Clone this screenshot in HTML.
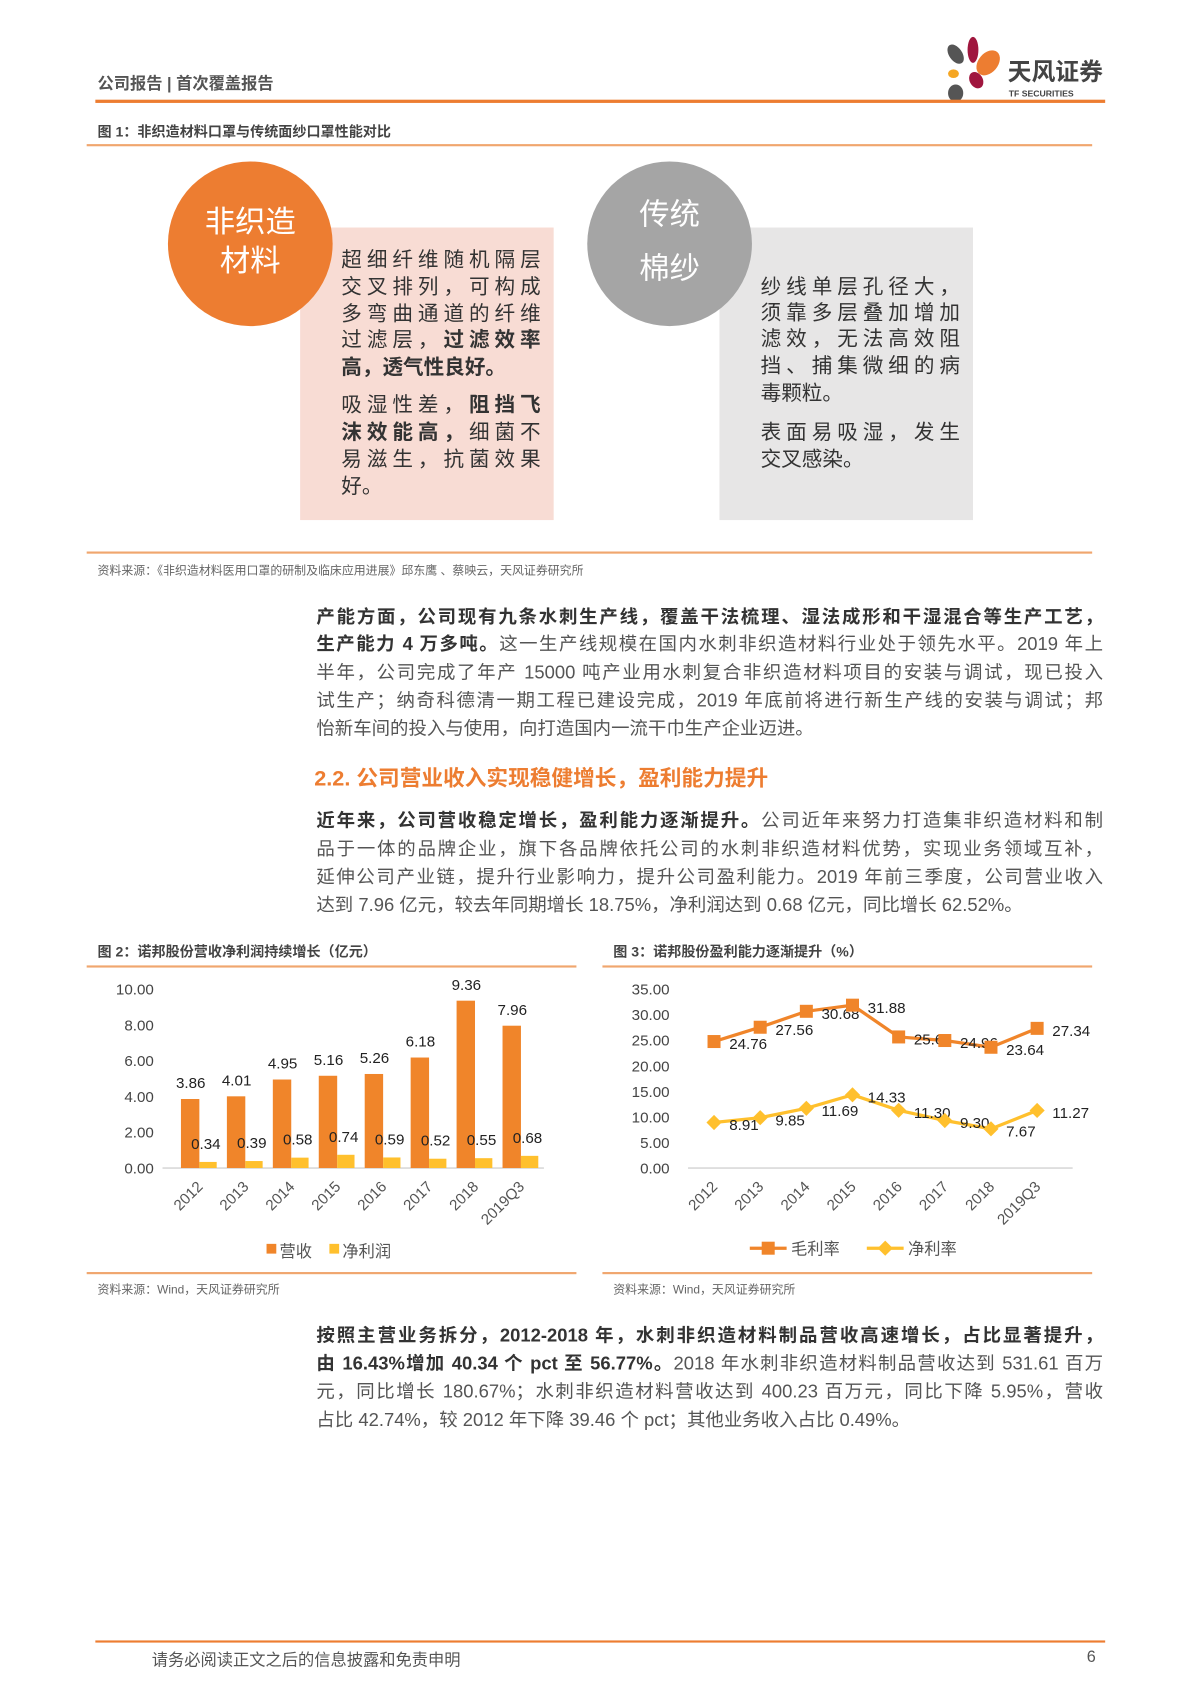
<!DOCTYPE html>
<html><head><meta charset="utf-8">
<style>
html,body{margin:0;padding:0;background:#fff;}
body{width:1200px;height:1698px;overflow:hidden;position:relative;}
#pg{position:absolute;left:0;top:0;width:1100px;height:1556px;transform:scale(1.0835);transform-origin:0 0;font-family:"Liberation Sans","Noto Sans CJK SC",sans-serif;color:#444;}
.a{position:absolute;white-space:nowrap;}
.ln{position:absolute;left:292px;width:726px;font-size:17px;line-height:26px;height:26px;text-align:justify;text-align-last:justify;white-space:nowrap;color:#555;}
.ln.l{text-align-last:left;}
.ln b{color:#333;}
.bx{position:absolute;font-size:19px;line-height:25px;height:25px;width:184px;text-align:justify;text-align-last:justify;color:#333;white-space:nowrap;}
.bx.l{text-align-last:left;}
.hr{position:absolute;background:#ED7D31;}
</style></head><body>
<div id="pg">
<div class="a" style="left:90px;top:66px;font-size:15px;font-weight:bold;color:#555;">公司报告 | 首次覆盖报告</div>
<svg class="a" style="left:868px;top:32px" width="160" height="66" viewBox="0 0 160 66">
<ellipse cx="14" cy="18" rx="6" ry="10" transform="rotate(-35 14 18)" fill="#555"/>
<ellipse cx="30" cy="14" rx="5" ry="12" fill="#A0163E"/>
<ellipse cx="44" cy="26" rx="9" ry="13" transform="rotate(40 44 26)" fill="#ED7D31"/>
<ellipse cx="12" cy="36" rx="5" ry="4" fill="#F5A623"/>
<ellipse cx="33" cy="42" rx="6" ry="8" transform="rotate(-30 33 42)" fill="#A0163E"/>
<ellipse cx="14" cy="54" rx="7" ry="8" fill="#555"/>
<text x="62" y="42" font-size="22" font-weight="bold" fill="#444" font-family="Noto Sans CJK SC,sans-serif">天风证券</text>
<text x="63" y="57" font-size="8" font-weight="bold" fill="#444" font-family="Liberation Sans,sans-serif">TF SECURITIES</text>
</svg>
<div class="hr" style="left:88px;top:92px;width:932px;height:3px;"></div>

<div class="a" style="left:90px;top:111px;font-size:13px;font-weight:bold;color:#444;">图 1：非织造材料口罩与传统面纱口罩性能对比</div>
<div class="hr" style="left:80px;top:133px;width:928px;height:2px;background:#F0A66E"></div>

<div class="a" style="left:277px;top:210px;width:234px;height:270px;background:#F8DCD4"></div>
<div class="a" style="left:155px;top:149px;width:152px;height:152px;border-radius:50%;background:#ED7D31;color:#fff;font-size:28px;line-height:36px;text-align:center;"><div style="padding-top:38px">非织造<br>材料</div></div>
<div class="bx" style="left:315px;top:228px">超细纤维随机隔层</div>
<div class="bx" style="left:315px;top:253px">交叉排列，可构成</div>
<div class="bx" style="left:315px;top:278px">多弯曲通道的纤维</div>
<div class="bx" style="left:315px;top:302px">过滤层，<b>过滤效率</b></div>
<div class="bx l" style="left:315px;top:327px"><b>高，透气性良好。</b></div>
<div class="bx" style="left:315px;top:362px">吸湿性差，<b>阻挡飞</b></div>
<div class="bx" style="left:315px;top:387px"><b>沫效能高，</b>细菌不</div>
<div class="bx" style="left:315px;top:412px">易滋生，抗菌效果</div>
<div class="bx l" style="left:315px;top:437px">好。</div>

<div class="a" style="left:664px;top:210px;width:234px;height:270px;background:#E7E6E6"></div>
<div class="a" style="left:542px;top:149px;width:152px;height:152px;border-radius:50%;background:#A5A5A5;color:#fff;font-size:28px;line-height:50px;text-align:center;"><div style="padding-top:24px">传统<br>棉纱</div></div>
<div class="bx" style="left:702px;top:253px">纱线单层孔径大，</div>
<div class="bx" style="left:702px;top:277px">须靠多层叠加增加</div>
<div class="bx" style="left:702px;top:301px">滤效，无法高效阻</div>
<div class="bx" style="left:702px;top:326px">挡、捕集微细的病</div>
<div class="bx l" style="left:702px;top:351px">毒颗粒。</div>
<div class="bx" style="left:702px;top:387px">表面易吸湿，发生</div>
<div class="bx l" style="left:702px;top:412px">交叉感染。</div>

<div class="hr" style="left:80px;top:509px;width:928px;height:2px;background:#F0A66E"></div>
<div class="a" style="left:90px;top:518px;font-size:11px;color:#666;">资料来源：《非织造材料医用口罩的研制及临床应用进展》邱东鹰 、蔡映云，天风证券研究所</div>

<div class="ln" style="top:557px"><b>产能方面，公司现有九条水刺生产线，覆盖干法梳理、湿法成形和干湿混合等生产工艺，</b></div>
<div class="ln" style="top:582px"><b>生产能力 4 万多吨。</b>这一生产线规模在国内水刺非织造材料行业处于领先水平。2019 年上</div>
<div class="ln" style="top:608px">半年，公司完成了年产 15000 吨产业用水刺复合非织造材料项目的安装与调试，现已投入</div>
<div class="ln" style="top:634px">试生产；纳奇科德清一期工程已建设完成，2019 年底前将进行新生产线的安装与调试；邦</div>
<div class="ln l" style="top:660px">怡新车间的投入与使用，向打造国内一流干巾生产企业迈进。</div>

<div class="a" style="left:290px;top:702px;font-size:20px;color:#ED7D31;font-weight:bold;">2.2. 公司营业收入实现稳健增长，盈利能力提升</div>

<div class="ln" style="top:745px"><b>近年来，公司营收稳定增长，盈利能力逐渐提升。</b>公司近年来努力打造集非织造材料和制</div>
<div class="ln" style="top:771px">品于一体的品牌企业，旗下各品牌依托公司的水刺非织造材料优势，实现业务领域互补，</div>
<div class="ln" style="top:797px">延伸公司产业链，提升行业影响力，提升公司盈利能力。2019 年前三季度，公司营业收入</div>
<div class="ln l" style="top:823px">达到 7.96 亿元，较去年同期增长 18.75%，净利润达到 0.68 亿元，同比增长 62.52%。</div>

<div class="a" style="left:90px;top:868px;font-size:13px;font-weight:bold;color:#444;">图 2：诺邦股份营收净利润持续增长（亿元）</div>
<div class="a" style="left:566px;top:868px;font-size:13px;font-weight:bold;color:#444;">图 3：诺邦股份盈利能力逐渐提升（%）</div>
<div class="hr" style="left:80px;top:891px;width:452px;height:2px;background:#F0A66E"></div>
<div class="hr" style="left:556px;top:891px;width:452px;height:2px;background:#F0A66E"></div>

<svg id="c1" class="a" style="left:0;top:0" width="1100" height="1556"></svg>
<svg id="c2" class="a" style="left:0;top:0" width="1100" height="1556"></svg>

<div class="hr" style="left:80px;top:1174px;width:452px;height:2px;background:#F0A66E"></div>
<div class="hr" style="left:556px;top:1174px;width:452px;height:2px;background:#F0A66E"></div>
<div class="a" style="left:90px;top:1182px;font-size:11px;color:#666;">资料来源：Wind，天风证券研究所</div>
<div class="a" style="left:566px;top:1182px;font-size:11px;color:#666;">资料来源：Wind，天风证券研究所</div>

<div class="ln" style="top:1220px"><b>按照主营业务拆分，2012-2018 年，水刺非织造材料制品营收高速增长，占比显著提升，</b></div>
<div class="ln" style="top:1246px"><b>由 16.43%增加 40.34 个 pct 至 56.77%。</b>2018 年水刺非织造材料制品营收达到 531.61 百万</div>
<div class="ln" style="top:1272px">元，同比增长 180.67%；水刺非织造材料营收达到 400.23 百万元，同比下降 5.95%，营收</div>
<div class="ln l" style="top:1298px">占比 42.74%，较 2012 年下降 39.46 个 pct；其他业务收入占比 0.49%。</div>

<div class="hr" style="left:88px;top:1514px;width:932px;height:2px;"></div>
<div class="a" style="left:140px;top:1521px;font-size:15px;color:#555;">请务必阅读正文之后的信息披露和免责申明</div>
<div class="a" style="left:1003px;top:1521px;font-size:15px;color:#555;">6</div>
</div>
<script>
const categories=["2012","2013","2014","2015","2016","2017","2018","2019Q3"];
const revenue=[3.86,4.01,4.95,5.16,5.26,6.18,9.36,7.96];
const netProfit=[0.34,0.39,0.58,0.74,0.59,0.52,0.55,0.68];
const leftTicks=["0.00","2.00","4.00","6.00","8.00","10.00"];
const grossMargin=[24.76,27.56,30.68,31.88,25.66,24.96,23.64,27.34];
const netMargin=[8.91,9.85,11.69,14.33,11.30,9.30,7.67,11.27];
const rightTicks=["0.00","5.00","10.00","15.00","20.00","25.00","30.00","35.00"];
const NS="http://www.w3.org/2000/svg";
function mk(svg,tag,at,txt){const e=document.createElementNS(NS,tag);for(const k in at)e.setAttribute(k,at[k]);if(txt!==undefined)e.textContent=txt;svg.appendChild(e);return e;}
const F="Liberation Sans, Noto Sans CJK SC, sans-serif";
// chart 1
(function(){
const s=document.getElementById('c1');
const base=1078,top=913,max=10;
const y=v=>base-v/max*(base-top);
const x=i=>184+i*42.4;
leftTicks.forEach(t=>{const e=mk(s,'text',{x:142,y:y(+t)+5,'text-anchor':'end','font-size':14,fill:'#444','font-family':F},t);});
mk(s,'line',{x1:150,x2:502,y1:base,y2:base,stroke:'#d9d9d9','stroke-width':1.5});
categories.forEach((c,i)=>{
const r=mk(s,'rect',{x:x(i)-17,y:y(revenue[i]),width:17,height:base-y(revenue[i]),fill:'#F0852A'});

const p=mk(s,'rect',{x:x(i),y:y(netProfit[i]),width:16,height:base-y(netProfit[i]),fill:'#FFC02D'});

const l1=mk(s,'text',{x:x(i)-8,y:y(revenue[i])-10,'text-anchor':'middle','font-size':14,fill:'#222','font-family':F},revenue[i].toFixed(2));

const l2=mk(s,'text',{x:x(i)+6,y:y(netProfit[i])-12,'text-anchor':'middle','font-size':14,fill:'#222','font-family':F},netProfit[i].toFixed(2));

const t=mk(s,'text',{x:x(i)+4,y:1096,'text-anchor':'end','font-size':14,fill:'#555','font-family':F,transform:`rotate(-45 ${x(i)+4} 1096)`},c);

});
mk(s,'rect',{x:246,y:1148,width:9,height:9,fill:'#F0852A'});
const a=mk(s,'text',{x:258,y:1160,'font-size':15,fill:'#555','font-family':F},'营收');
mk(s,'rect',{x:304,y:1148,width:9,height:9,fill:'#FFC02D'});
const b=mk(s,'text',{x:316,y:1160,'font-size':15,fill:'#555','font-family':F},'净利润');
})();
// chart 2
(function(){
const s=document.getElementById('c2');
const base=1078,top=913,max=35;
const y=v=>base-v/max*(base-top);
const x=i=>659+i*42.6;
rightTicks.forEach(t=>{const e=mk(s,'text',{x:618,y:y(+t)+5,'text-anchor':'end','font-size':14,fill:'#444','font-family':F},t);});
mk(s,'line',{x1:635,x2:990,y1:base,y2:base,stroke:'#d9d9d9','stroke-width':1.5});
const series=[[grossMargin,'#F0852A','sq','gross'],[netMargin,'#FFC02D','di','net']];
series.forEach(([d,col,m,n])=>{
const pl=mk(s,'polyline',{points:d.map((v,i)=>x(i)+','+y(v)).join(' '),fill:'none',stroke:col,'stroke-width':3});

d.forEach((v,i)=>{
let mkr;
if(m==='sq')mkr=mk(s,'rect',{x:x(i)-6,y:y(v)-6,width:12,height:12,fill:col});
else mkr=mk(s,'polygon',{points:`${x(i)},${y(v)-7} ${x(i)+7},${y(v)} ${x(i)},${y(v)+7} ${x(i)-7},${y(v)}`,fill:col});

const lb=mk(s,'text',{x:x(i)+14,y:y(v)+7,'font-size':14,fill:'#222','font-family':F},v.toFixed(2));

});
});
categories.forEach((c,i)=>{const t=mk(s,'text',{x:x(i)+4,y:1096,'text-anchor':'end','font-size':14,fill:'#555','font-family':F,transform:`rotate(-45 ${x(i)+4} 1096)`},c);});
mk(s,'line',{x1:692,x2:726,y1:1152,y2:1152,stroke:'#F0852A','stroke-width':3});
mk(s,'rect',{x:703,y:1146,width:12,height:12,fill:'#F0852A'});
const a=mk(s,'text',{x:730,y:1158,'font-size':15,fill:'#555','font-family':F},'毛利率');
mk(s,'line',{x1:800,x2:834,y1:1152,y2:1152,stroke:'#FFC02D','stroke-width':3});
mk(s,'polygon',{points:'817,1145 824,1152 817,1159 810,1152',fill:'#FFC02D'});
const b=mk(s,'text',{x:838,y:1158,'font-size':15,fill:'#555','font-family':F},'净利率');
})();
</script>
</body></html>
